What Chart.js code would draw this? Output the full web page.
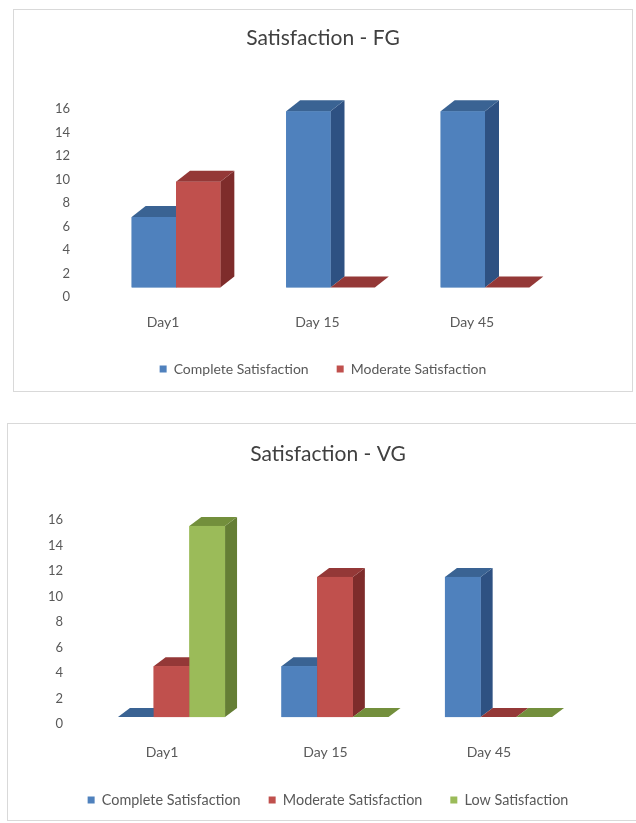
<!DOCTYPE html>
<html>
<head>
<meta charset="utf-8">
<script src="https://cdn.jsdelivr.net/npm/chart.js@4.4.1/dist/chart.umd.min.js"></script>
<style>
  html, body { margin: 0; padding: 0; background: #fff; overflow: hidden; }
  body { width: 636px; height: 823px; position: relative; }
  .box { position: absolute; border: 1px solid #d9d9d9; background: #fff; }
  .box canvas { display: block; }
  #boxFG { left: 13px; top: 9px; width: 618px; height: 381px; }
  #boxVG { left: 7px; top: 423px; width: 640px; height: 396px; }
</style>
</head>
<body>
<div class="box" id="boxFG"><canvas id="chartFG" width="618" height="381"></canvas></div>
<div class="box" id="boxVG"><canvas id="chartVG" width="640" height="396"></canvas></div>
<script>
// categories and values
var days = ['Day1', 'Day 15', 'Day 45'];
var fgComplete = [6, 15, 15];
var fgModerate = [9, 0, 0];
var vgComplete = [0, 4, 11];
var vgModerate = [4, 11, 0];
var vgLow = [15, 0, 0];
var axisMax = 16;
var axisStep = 2;

Chart.defaults.font.family = 'Lato, "Open Sans", sans-serif';
Chart.defaults.color = '#595959';

var BLUE = { front: '#4f81bd', top: '#3a6393', side: '#2e5182' };
var RED = { front: '#c0504d', top: '#943837', side: '#7e2c2b' };
var GREEN = { front: '#9bbb59', top: '#738f3c', side: '#657e35' };

// fake 3D columns: side + top faces, then the front again so that
// bars further right hide the faces of the bar before them
var columns3d = {
    id: 'columns3d',
    afterDatasetsDraw: function (chart, args, opts) {
        var ctx = chart.ctx;
        var dx = opts.dx, dy = opts.dy;
        var metas = chart.getSortedVisibleDatasetMetas();
        ctx.save();
        for (var i = 0; i < chart.data.labels.length; i++) {
            metas.forEach(function (meta) {
                var ds = chart.data.datasets[meta.index];
                var p = meta.data[i].getProps(['x', 'y', 'base', 'width'], true);
                var l = p.x - p.width / 2, r = p.x + p.width / 2;
                var top = p.y, base = p.base;

                ctx.fillStyle = ds.faces.side;
                ctx.beginPath();
                ctx.moveTo(r, top);
                ctx.lineTo(r + dx, top - dy);
                ctx.lineTo(r + dx, base - dy);
                ctx.lineTo(r, base);
                ctx.closePath();
                ctx.fill();

                ctx.fillStyle = ds.faces.top;
                ctx.beginPath();
                ctx.moveTo(l, top);
                ctx.lineTo(r, top);
                ctx.lineTo(r + dx, top - dy);
                ctx.lineTo(l + dx, top - dy);
                ctx.closePath();
                ctx.fill();

                ctx.fillStyle = ds.faces.front;
                ctx.fillRect(l, top, p.width, base - top);
            });
        }
        ctx.restore();
    }
};

function makeDataset(label, values, faces) {
    return {
        label: label,
        data: values,
        faces: faces,
        backgroundColor: faces.front,
        borderWidth: 0,
        barPercentage: 1
    };
}

function buildChart(canvasId, title, datasets, lay) {
    var ctx = document.getElementById(canvasId);
    if (!ctx) return;

    return new Chart(ctx, {
        type: 'bar',
        data: { labels: days, datasets: datasets },
        plugins: [columns3d],
        options: {
            responsive: false,
            animation: false,
            layout: { padding: { left: 0, right: 0, top: 0, bottom: lay.padBottom } },
            datasets: { bar: { categoryPercentage: lay.catPct } },
            plugins: {
                columns3d: { dx: lay.dx, dy: lay.dy },
                title: {
                    display: true,
                    text: title,
                    color: '#404040',
                    font: { size: 21, weight: 'normal' },
                    padding: { top: lay.titleTop, bottom: lay.titleBottom }
                },
                legend: {
                    position: 'bottom',
                    labels: {
                        boxWidth: 7,
                        boxHeight: 7,
                        padding: 28,
                        color: '#595959',
                        font: { size: lay.legendSize }
                    }
                },
                tooltip: { enabled: false }
            },
            scales: {
                x: {
                    grid: { display: false, drawTicks: false },
                    border: { display: false },
                    ticks: { padding: lay.xTickPad, labelOffset: lay.xLabelShift, font: { size: 14 } },
                    afterFit: function (s) { s.height = lay.xHeight; }
                },
                y: {
                    min: 0,
                    max: axisMax,
                    grid: { display: false, drawTicks: false },
                    border: { display: false },
                    ticks: { stepSize: axisStep, padding: lay.yTickPad, labelOffset: lay.yLabelShift, font: { size: 13 } },
                    afterFit: function (s) { s.width = lay.yWidth; }
                },
                // empty axis on the right keeps the plot off the right edge
                spacer: {
                    type: 'linear',
                    position: 'right',
                    grid: { display: false, drawTicks: false },
                    border: { display: false },
                    ticks: { display: false },
                    afterFit: function (s) { s.width = lay.rightWidth; }
                }
            }
        }
    });
}

buildChart('chartFG', 'Satisfaction - FG', [
    makeDataset('Complete Satisfaction', fgComplete, BLUE),
    makeDataset('Moderate Satisfaction', fgModerate, RED)
], {
    catPct: 0.574, dx: 14, dy: 11, legendSize: 14,
    padBottom: 5, titleTop: 16, titleBottom: 48.4,
    xHeight: 46.5, xTickPad: 26.6, xLabelShift: -13,
    yWidth: 84.75, yTickPad: 28.75, yLabelShift: 9.5,
    rightWidth: 69.75
});

buildChart('chartVG', 'Satisfaction - VG', [
    makeDataset('Complete Satisfaction', vgComplete, BLUE),
    makeDataset('Moderate Satisfaction', vgModerate, RED),
    makeDataset('Low Satisfaction', vgLow, GREEN)
], {
    catPct: 0.655, dx: 12, dy: 9, legendSize: 14.4,
    padBottom: 2.8, titleTop: 18, titleBottom: 46,
    xHeight: 47.7, xTickPad: 26.6, xLabelShift: -9.5,
    yWidth: 81.75, yTickPad: 26.75, yLabelShift: 7,
    rightWidth: 67.75
});
</script>
</body>
</html>
